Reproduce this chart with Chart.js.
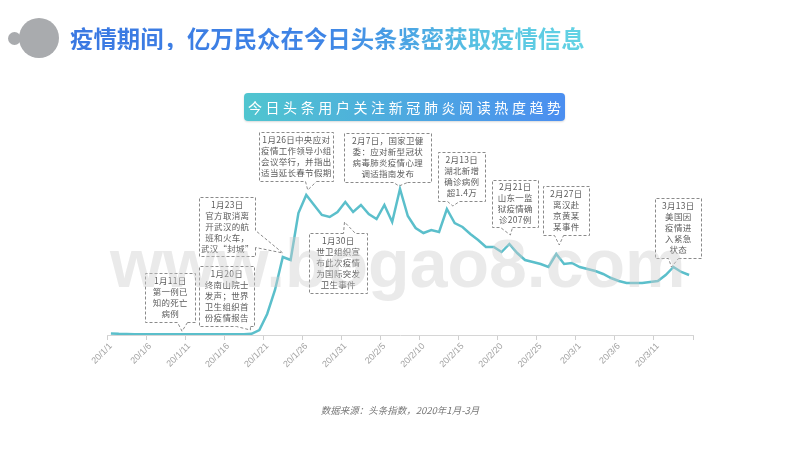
<!DOCTYPE html>
<html><head><meta charset="utf-8">
<script src="https://cdn.jsdelivr.net/npm/chart.js@4.4.1/dist/chart.umd.min.js"></script>
<style>
html,body{margin:0;padding:0;background:#fff;}
#wrap{position:relative;width:800px;height:450px;overflow:hidden;font-family:"Noto Sans CJK SC","Noto Sans",sans-serif;}
#c{position:absolute;left:0;top:0;}
.dot1{position:absolute;left:8px;top:32px;width:13px;height:13px;border-radius:50%;background:#a9abae;}
.dot2{position:absolute;left:19px;top:18px;width:40px;height:40px;border-radius:50%;background:#a9abae;}
.title{position:absolute;left:70px;top:26px;font-family:"Noto Sans CJK SC",sans-serif;font-size:23.4px;line-height:24px;font-weight:700;letter-spacing:0;white-space:nowrap;background:linear-gradient(90deg,#3a78e2 0%,#3f85e6 50%,#58c3e2 80%,#63d3e4 100%);-webkit-background-clip:text;background-clip:text;color:transparent;}
.banner{position:absolute;left:244px;top:93px;width:321px;height:28px;border-radius:4px;background:linear-gradient(90deg,#50c5cf,#4b8ef0);color:#fff;font-size:14px;line-height:28px;text-align:center;letter-spacing:3.6px;text-indent:3.6px;white-space:nowrap;box-shadow:0 1px 2px rgba(0,0,0,0.15);}
.source{position:absolute;left:0;width:800px;top:404px;text-align:center;font-size:9.5px;line-height:12px;font-style:italic;color:#777;}
.wm{position:absolute;left:110px;top:229px;font-family:"Liberation Sans",Arial,sans-serif;font-weight:700;font-size:68px;line-height:68px;color:rgba(205,205,205,0.42);white-space:nowrap;pointer-events:none;}
</style></head>
<body>
<div id="wrap">
<canvas id="c" width="800" height="450"></canvas>
<div class="dot1"></div><div class="dot2"></div>
<div class="title">疫情期间，亿万民众在今日头条紧密获取疫情信息</div>
<div class="banner">今日头条用户关注新冠肺炎阅读热度趋势</div>
<div class="wm">www.bogao8.com</div>
<div class="source">数据来源：头条指数，2020年1月-3月</div>
</div>
<script>
const dates = [
 "20/1/1","20/1/2","20/1/3","20/1/4","20/1/5","20/1/6","20/1/7","20/1/8","20/1/9","20/1/10",
 "20/1/11","20/1/12","20/1/13","20/1/14","20/1/15","20/1/16","20/1/17","20/1/18","20/1/19","20/1/20",
 "20/1/21","20/1/22","20/1/23","20/1/24","20/1/25","20/1/26","20/1/27","20/1/28","20/1/29","20/1/30","20/1/31",
 "20/2/1","20/2/2","20/2/3","20/2/4","20/2/5","20/2/6","20/2/7","20/2/8","20/2/9","20/2/10",
 "20/2/11","20/2/12","20/2/13","20/2/14","20/2/15","20/2/16","20/2/17","20/2/18","20/2/19","20/2/20",
 "20/2/21","20/2/22","20/2/23","20/2/24","20/2/25","20/2/26","20/2/27","20/2/28","20/2/29",
 "20/3/1","20/3/2","20/3/3","20/3/4","20/3/5","20/3/6","20/3/7","20/3/8","20/3/9","20/3/10",
 "20/3/11","20/3/12","20/3/13","20/3/14","20/3/15"
];
const heat = [
 0.8,0.6,0.5,0.4,0.4,0.4,0.4,0.4,0.4,0.4,
 0.4,0.4,0.4,0.4,0.4,0.4,0.4,0.4,0.6,2.5,
 10.5,22.5,39,37.5,61,70,65,60,59,61.5,66.5,
 61.5,65,60.5,58,65,56.5,73,59.5,53.5,51,
 52.5,51.5,63,56,54,50.5,47.5,44,44,41.5,
 45.5,41,37.5,36.5,35.5,34,40.5,35.5,36,
 34,33,32,30.5,28.5,27,26,26,26,26.5,
 27,30,34,31.5,30
];
const calloutDates = ["20/1/11","20/1/20","20/1/23","20/1/26","20/2/7","20/1/30","20/2/13","20/2/21","20/2/27","20/3/13"];
const calloutTexts = [
 ["1月11日","第一例已","知的死亡","病例"],
 ["1月20日","终南山院士","发声；世界","卫生组织首","份疫情报告"],
 ["1月23日","官方取消离","开武汉的航","班和火车，","武汉“封城”"],
 ["1月26日中央应对","疫情工作领导小组","会议举行，并指出","适当延长春节假期"],
 ["2月7日，国家卫健","委：应对新型冠状","病毒肺炎疫情心理","调适指南发布"],
 ["1月30日","世卫组织宣","布此次疫情","为国际突发","卫生事件"],
 ["2月13日","湖北新增","确诊病例","超1.4万"],
 ["2月21日","山东一监","狱疫情确","诊207例"],
 ["2月27日","离汉赴","京黄某","某事件"],
 ["3月13日","美国因","疫情进","入紧急","状态"]
];
// layout of callout boxes (pixels) - separate from data
const calloutLayout = [
 {x:145,y:273,w:50,h:49,side:"bottom",g1:32,g2:42,dx:-7,dy:-3},
 {x:199,y:266,w:55,h:60,side:"bottom",g1:37,g2:51,dx:-9,dy:0},
 {x:199,y:197,w:56,h:59,side:"right",g1:33,g2:50,dx:0,dy:-4},
 {x:259,y:132,w:74,h:49,side:"bottom",g1:46,g2:57,dx:1.5,dy:-5},
 {x:344,y:133,w:87,h:49,side:"bottom",g1:49,g2:63,dx:-1,dy:-3},
 {x:309,y:233,w:58,h:60,side:"top",g1:34,g2:46,dx:7,dy:10},
 {x:438,y:152,w:47,h:49,side:"bottom",g1:9,g2:21,dx:6,dy:-3},
 {x:492,y:180,w:46,h:47,side:"bottom",g1:8,g2:20,dx:1,dy:-9},
 {x:543,y:186,w:46,h:49,side:"bottom",g1:11,g2:20,dx:3,dy:-9},
 {x:655,y:198,w:46,h:60,side:"bottom",g1:13,g2:23,dx:-2,dy:0}
];

const calloutPlugin = {
  id:'callouts',
  afterDatasetsDraw(chart){
    const ctx = chart.ctx, xs = chart.scales.x, ys = chart.scales.y;
    ctx.save();
    calloutDates.forEach((d,k)=>{
      const L = calloutLayout[k];
      const idx = dates.indexOf(d);
      const tx = xs.getPixelForValue(idx) + L.dx;
      const ty = ys.getPixelForValue(heat[idx]) + L.dy;
      const x = Math.round(L.x)+0.5, y = Math.round(L.y)+0.5, w = L.w, h = L.h;
      ctx.beginPath();
      if (L.side === 'bottom'){
        ctx.moveTo(x+L.g2, y+h); ctx.lineTo(x+w, y+h); ctx.lineTo(x+w, y); ctx.lineTo(x, y);
        ctx.lineTo(x, y+h); ctx.lineTo(x+L.g1, y+h); ctx.lineTo(tx, ty); ctx.lineTo(x+L.g2, y+h);
      } else if (L.side === 'top'){
        ctx.moveTo(x+L.g1, y); ctx.lineTo(x, y); ctx.lineTo(x, y+h); ctx.lineTo(x+w, y+h);
        ctx.lineTo(x+w, y); ctx.lineTo(x+L.g2, y); ctx.lineTo(tx, ty); ctx.lineTo(x+L.g1, y);
      } else {
        ctx.moveTo(x+w, y+L.g2); ctx.lineTo(x+w, y+h); ctx.lineTo(x, y+h); ctx.lineTo(x, y);
        ctx.lineTo(x+w, y); ctx.lineTo(x+w, y+L.g1); ctx.lineTo(tx, ty); ctx.lineTo(x+w, y+L.g2);
      }
      ctx.setLineDash([3,2]);
      ctx.lineWidth = 1;
      ctx.strokeStyle = '#8a8a8a';
      ctx.stroke();
      ctx.setLineDash([]);
      const lines = calloutTexts[k];
      ctx.font = '8.5px "Noto Sans CJK SC", sans-serif';
      ctx.fillStyle = '#5c5c5c';
      ctx.textAlign = 'center';
      ctx.textBaseline = 'middle';
      try { ctx.letterSpacing = '0.3px'; } catch(e){}
      const lh = 10.9;
      const cy0 = L.y + h/2 - lh*(lines.length-1)/2;
      lines.forEach((t,j)=> ctx.fillText(t, L.x + w/2 + 0.3, cy0 + j*lh));
    });
    ctx.restore();
  }
};

new Chart(document.getElementById('c'), {
  type:'line',
  data:{labels:dates, datasets:[{data:heat, borderColor:'#5bbfcb', borderWidth:2.5, pointRadius:0, tension:0, fill:false}]},
  options:{
    responsive:false, animation:false, devicePixelRatio:1,
    layout:{padding:{left:107,right:107,top:135,bottom:75}},
    plugins:{legend:{display:false}, tooltip:{enabled:false}},
    scales:{
      x:{
        offset:true,
        grid:{offset:true, drawOnChartArea:false, drawTicks:true, tickLength:5, lineWidth:1,
              tickColor:(c)=> (c.index === undefined || c.index % 5 === 0) ? '#cfcfcf' : 'rgba(0,0,0,0)'},
        border:{color:'#d6d6d6', width:1},
        ticks:{autoSkip:false, maxRotation:45, minRotation:45, padding:1, color:'#a3a3a3',
               font:{size:9, family:'"Liberation Sans", Arial, sans-serif'},
               callback:(v,i)=> (i % 5 === 0) ? dates[i] : ''},
        afterFit:(s)=>{ s.height = 40; }
      },
      y:{display:false, min:0, max:100}
    }
  },
  plugins:[calloutPlugin]
});
</script>
</body></html>
